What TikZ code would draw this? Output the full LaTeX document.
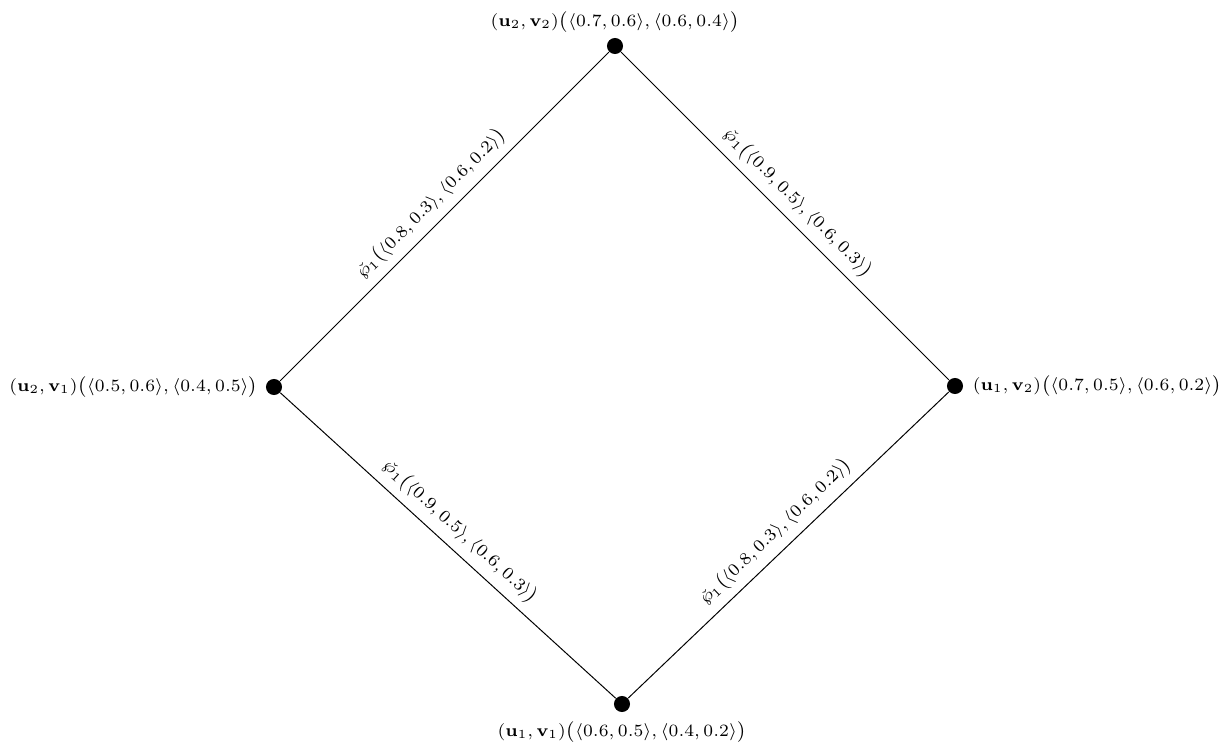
\documentclass[tikz,border=0pt]{standalone}
\usepackage{amsmath,amssymb}
\usetikzlibrary{calc}
\begin{document}
\begin{tikzpicture}[x=0.405pt,y=-0.405pt,
  vert/.style={circle,fill=black,inner sep=0pt,minimum size=6.5pt},
  elab/.style={font=\scriptsize,sloped,above,midway,inner sep=3pt},
  nlab/.style={font=\scriptsize,inner sep=1pt}]
\useasboundingbox (0,0) rectangle (1231,745);
\node[vert] (t) at (615,46) {};
\node[vert] (l) at (274,387) {};
\node[vert] (r) at (955,386) {};
\node[vert] (b) at (622,704) {};
\node[nlab] (tl) at ($(t)+(0,-24)$) {$(\mathbf{u}_2,\mathbf{v}_2)\big(\langle 0.7,0.6\rangle,\langle 0.6,0.4\rangle\big)$};
\node[nlab,anchor=east] (ll) at ($(l)+(-13,0)$) {$(\mathbf{u}_2,\mathbf{v}_1)\big(\langle 0.5,0.6\rangle,\langle 0.4,0.5\rangle\big)$};
\node[nlab,anchor=west] (rl) at ($(r)+(15,0)$) {$(\mathbf{u}_1,\mathbf{v}_2)\big(\langle 0.7,0.5\rangle,\langle 0.6,0.2\rangle\big)$};
\node[nlab] (bl) at ($(b)+(0,28)$) {$(\mathbf{u}_1,\mathbf{v}_1)\big(\langle 0.6,0.5\rangle,\langle 0.4,0.2\rangle\big)$};
\draw (l) -- node[elab] {$\check{\wp}_1\big(\langle 0.8,0.3\rangle,\langle 0.6,0.2\rangle\big)$} (t);
\draw (t) -- node[elab] {$\check{\wp}_1\big(\langle 0.9,0.5\rangle,\langle 0.6,0.3\rangle\big)$} (r);
\draw (l) -- node[elab] {$\check{\wp}_1\big(\langle 0.9,0.5\rangle,\langle 0.6,0.3\rangle\big)$} (b);
\draw (b) -- node[elab] {$\check{\wp}_1\big(\langle 0.8,0.3\rangle,\langle 0.6,0.2\rangle\big)$} (r);
\end{tikzpicture}
\end{document}
